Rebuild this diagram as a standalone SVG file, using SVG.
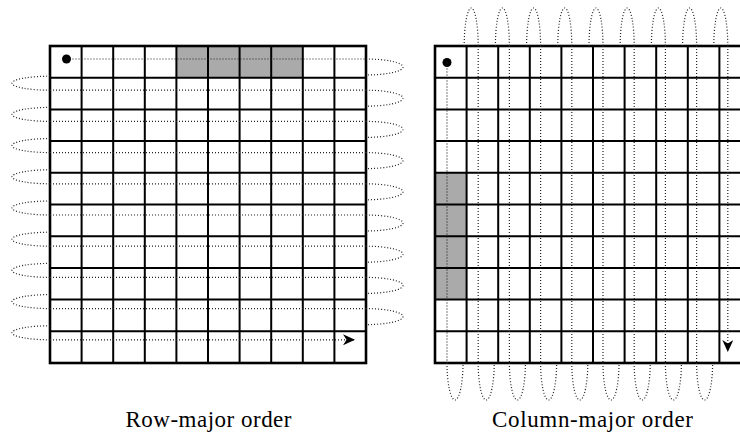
<svg xmlns="http://www.w3.org/2000/svg" width="740" height="435" viewBox="0 0 740 435">
<style>
.cell{fill:#ffffff}
.hl{fill:#aaaaaa}
.inner{fill:none;stroke:#000;stroke-width:2}
.outer{fill:none;stroke:#000;stroke-width:2.6}
.dot{fill:none;stroke:#222;stroke-width:1.2;stroke-dasharray:1 2}
.start{fill:#000}
.label{font-family:"Liberation Serif","Times New Roman",serif;font-size:23px;fill:#000;text-anchor:middle}
</style>
<defs>
<marker id="arrow" viewBox="0 0 12 11" refX="12" refY="5.5" markerWidth="12" markerHeight="11" markerUnits="userSpaceOnUse" orient="auto">
<path d="M0,0 L12,5.5 L0,11 L3.5,5.5 Z" fill="#000"/>
</marker>
</defs>
<rect width="740" height="435" fill="#fff"/>

<g id="row-major-grid">
<rect class="cell" x="50" y="46" width="316" height="317"/>
<rect class="hl" x="176.4" y="46" width="126.4" height="31.7"/>
<path class="inner" d="M81.6,46V363M113.2,46V363M144.8,46V363M176.4,46V363M208,46V363M239.6,46V363M271.2,46V363M302.8,46V363M334.4,46V363M50,77.7H366M50,109.4H366M50,141.1H366M50,172.8H366M50,204.5H366M50,236.2H366M50,267.9H366M50,299.6H366M50,331.3H366"/>
<rect class="outer" x="50" y="46" width="316" height="317"/>
</g>

<g id="column-major-grid">
<rect class="cell" x="435" y="46" width="316" height="317"/>
<rect class="hl" x="435" y="172.8" width="31.6" height="126.8"/>
<path class="inner" d="M466.6,46V363M498.2,46V363M529.8,46V363M561.4,46V363M593,46V363M624.6,46V363M656.2,46V363M687.8,46V363M719.4,46V363M435,77.7H751M435,109.4H751M435,141.1H751M435,172.8H751M435,204.5H751M435,236.2H751M435,267.9H751M435,299.6H751M435,331.3H751"/>
<rect class="outer" x="435" y="46" width="316" height="317"/>
</g>

<g id="connectors">
<g id="row-major-path">
<circle class="start" cx="66.5" cy="59" r="4.5"/>
<path class="dot" d="M66.5,59H366"/>
<path class="dot" d="M50,90.2H366"/>
<path class="dot" d="M50,121.4H366"/>
<path class="dot" d="M50,152.6H366"/>
<path class="dot" d="M50,183.8H366"/>
<path class="dot" d="M50,215H366"/>
<path class="dot" d="M50,246.2H366"/>
<path class="dot" d="M50,277.4H366"/>
<path class="dot" d="M50,308.6H366"/>
<path class="dot" d="M50,339.8H355" marker-end="url(#arrow)"/>
<path class="dot" d="M366,59A37,8 0 0 1 366,75"/>
<path class="dot" d="M366,90.2A37,8 0 0 1 366,106.2"/>
<path class="dot" d="M366,121.4A37,8 0 0 1 366,137.4"/>
<path class="dot" d="M366,152.6A37,8 0 0 1 366,168.6"/>
<path class="dot" d="M366,183.8A37,8 0 0 1 366,199.8"/>
<path class="dot" d="M366,215A37,8 0 0 1 366,231"/>
<path class="dot" d="M366,246.2A37,8 0 0 1 366,262.2"/>
<path class="dot" d="M366,277.4A37,8 0 0 1 366,293.4"/>
<path class="dot" d="M366,308.6A37,8 0 0 1 366,324.6"/>
<path class="dot" d="M50,76.2A38,7 0 0 0 50,90.2"/>
<path class="dot" d="M50,107.4A38,7 0 0 0 50,121.4"/>
<path class="dot" d="M50,138.6A38,7 0 0 0 50,152.6"/>
<path class="dot" d="M50,169.8A38,7 0 0 0 50,183.8"/>
<path class="dot" d="M50,201A38,7 0 0 0 50,215"/>
<path class="dot" d="M50,232.2A38,7 0 0 0 50,246.2"/>
<path class="dot" d="M50,263.4A38,7 0 0 0 50,277.4"/>
<path class="dot" d="M50,294.6A38,7 0 0 0 50,308.6"/>
<path class="dot" d="M50,325.8A38,7 0 0 0 50,339.8"/>
</g>
<g id="column-major-path">
<circle class="start" cx="447" cy="62.5" r="4.5"/>
<path class="dot" d="M447,62.5V363"/>
<path class="dot" d="M478.2,46V363"/>
<path class="dot" d="M509.4,46V363"/>
<path class="dot" d="M540.6,46V363"/>
<path class="dot" d="M571.8,46V363"/>
<path class="dot" d="M603,46V363"/>
<path class="dot" d="M634.2,46V363"/>
<path class="dot" d="M665.4,46V363"/>
<path class="dot" d="M696.6,46V363"/>
<path class="dot" d="M727.8,46V352" marker-end="url(#arrow)"/>
<path class="dot" d="M447,363A8,37 0 0 0 463,363"/>
<path class="dot" d="M478.2,363A8,37 0 0 0 494.2,363"/>
<path class="dot" d="M509.4,363A8,37 0 0 0 525.4,363"/>
<path class="dot" d="M540.6,363A8,37 0 0 0 556.6,363"/>
<path class="dot" d="M571.8,363A8,37 0 0 0 587.8,363"/>
<path class="dot" d="M603,363A8,37 0 0 0 619,363"/>
<path class="dot" d="M634.2,363A8,37 0 0 0 650.2,363"/>
<path class="dot" d="M665.4,363A8,37 0 0 0 681.4,363"/>
<path class="dot" d="M696.6,363A8,37 0 0 0 712.6,363"/>
<path class="dot" d="M464.2,46A7,38 0 0 1 478.2,46"/>
<path class="dot" d="M495.4,46A7,38 0 0 1 509.4,46"/>
<path class="dot" d="M526.6,46A7,38 0 0 1 540.6,46"/>
<path class="dot" d="M557.8,46A7,38 0 0 1 571.8,46"/>
<path class="dot" d="M589,46A7,38 0 0 1 603,46"/>
<path class="dot" d="M620.2,46A7,38 0 0 1 634.2,46"/>
<path class="dot" d="M651.4,46A7,38 0 0 1 665.4,46"/>
<path class="dot" d="M682.6,46A7,38 0 0 1 696.6,46"/>
<path class="dot" d="M713.8,46A7,38 0 0 1 727.8,46"/>
</g>
</g>

<g id="labels">
<text class="label" x="208.5" y="427" textLength="166" lengthAdjust="spacing">Row-major order</text>
<text class="label" x="592.5" y="427" textLength="201" lengthAdjust="spacing">Column-major order</text>
</g>
</svg>
